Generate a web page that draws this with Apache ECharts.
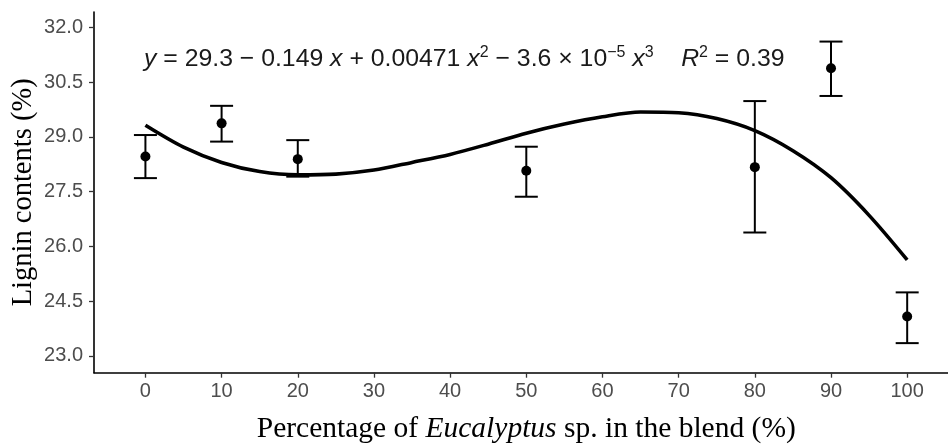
<!DOCTYPE html>
<html>
<head>
<meta charset="utf-8">
<script src="https://cdn.jsdelivr.net/npm/echarts@6/dist/echarts.min.js"></script>
<style>
html, body { margin: 0; padding: 0; background: #fff; }
#chart { width: 948px; height: 445px; }
</style>
</head>
<body>
<div id="chart"></div>
<script>
// measured means and error bar ends
var blendPct = [0, 10, 20, 50, 80, 90, 100];
var ligninMean = [28.46, 29.37, 28.39, 28.07, 28.17, 30.88, 24.08];
var ligninLow = [27.87, 28.87, 27.91, 27.36, 26.38, 30.12, 23.35];
var ligninHigh = [29.05, 29.85, 28.91, 28.73, 29.98, 31.61, 24.74];

// fitted curve
var curveX = [0, 5, 10, 15, 20, 25, 30, 35, 40, 45, 50, 55, 60, 65, 70, 75, 80, 85, 90, 95, 100];
var curveY = [29.32, 28.72, 28.3, 28.05, 27.96, 27.98, 28.09, 28.3, 28.52, 28.8, 29.1, 29.35, 29.55, 29.68, 29.66, 29.5, 29.17, 28.62, 27.88, 26.85, 25.63];

var xTicks = [0, 10, 20, 30, 40, 50, 60, 70, 80, 90, 100];
var yTicks = [23.0, 24.5, 26.0, 27.5, 29.0, 30.5, 32.0];

var chart = echarts.init(document.getElementById('chart'), null, { renderer: 'canvas' });

var pts = blendPct.map(function (x, i) { return [x, ligninMean[i]]; });
var bars = blendPct.map(function (x, i) { return [x, ligninLow[i], ligninHigh[i]]; });
var curve = curveX.map(function (x, i) { return [x, curveY[i]]; });

var axisText = { color: '#4d4d4d', fontSize: 20, fontFamily: 'Liberation Sans, Arial, sans-serif' };
var serif = 'Liberation Serif, Times New Roman, serif';
var sans = 'Liberation Sans, Arial, sans-serif';

var option = {
	animation: false,
	backgroundColor: '#fff',
	grid: { left: 94, right: -10.6, top: 12, bottom: 72.3, containLabel: false, outerBoundsMode: 'none' },
	xAxis: {
		type: 'value',
		min: -6.75,
		max: 106.75,
		name: '{n|Percentage of }{i|Eucalyptus}{n| sp. in the blend (%)}',
		nameLocation: 'middle',
		nameGap: 42,
		nameMoveOverlap: false,
		nameTextStyle: {
			rich: {
				n: { fontSize: 29.5, fontFamily: serif, color: '#000' },
				i: { fontSize: 29.5, fontStyle: 'italic', fontFamily: serif, color: '#000' }
			}
		},
		axisLine: { onZero: false, lineStyle: { color: '#000', width: 1.6 } },
		axisTick: { customValues: xTicks, length: 5, lineStyle: { color: '#333', width: 1.3 } },
		axisLabel: Object.assign({ customValues: xTicks, margin: 9 }, axisText),
		splitLine: { show: false }
	},
	yAxis: {
		type: 'value',
		min: 22.54,
		max: 32.42,
		name: 'Lignin contents (%)',
		nameLocation: 'middle',
		nameGap: 56,
		nameMoveOverlap: false,
		nameTextStyle: { fontSize: 28.5, fontFamily: serif, color: '#000' },
		axisLine: { onZero: false, lineStyle: { color: '#000', width: 1.6 } },
		axisTick: { customValues: yTicks, length: 5, lineStyle: { color: '#333', width: 1.3 } },
		axisLabel: Object.assign({
			customValues: yTicks,
			margin: 11,
			formatter: function (v) { return v.toFixed(1); }
		}, axisText),
		splitLine: { show: false }
	},
	graphic: [{
		type: 'text',
		left: 144,
		top: 44.5,
		style: {
			text: '{i|y}{n| = 29.3 − 0.149 }{i|x}{n| + 0.00471 }{i|x}{s|2}{n| − 3.6 × 10}{s|−5}{n| }{i|x}{s|3}{n|    }{i|R}{s|2}{n| = 0.39}',
			rich: {
				n: { fontSize: 24.8, lineHeight: 30, fontFamily: sans, fill: '#1a1a1a' },
				i: { fontSize: 24.8, lineHeight: 30, fontStyle: 'italic', fontFamily: sans, fill: '#1a1a1a' },
				s: { fontSize: 16, lineHeight: 14, verticalAlign: 'top', fontFamily: sans, fill: '#1a1a1a' }
			}
		}
	}],
	series: [{
		type: 'line',
		data: curve,
		smooth: 0.3,
		showSymbol: false,
		lineStyle: { color: '#000', width: 3.6 },
		z: 2
	}, {
		type: 'custom',
		data: bars,
		renderItem: function (params, api) {
			var x = api.value(0);
			var lo = api.coord([x, api.value(1)]);
			var hi = api.coord([x, api.value(2)]);
			var half = 11.5;
			var st = { stroke: '#000', lineWidth: 2 };
			return {
				type: 'group',
				children: [
					{ type: 'line', shape: { x1: lo[0], y1: lo[1], x2: hi[0], y2: hi[1] }, style: st },
					{ type: 'line', shape: { x1: lo[0] - half, y1: lo[1], x2: lo[0] + half, y2: lo[1] }, style: st },
					{ type: 'line', shape: { x1: hi[0] - half, y1: hi[1], x2: hi[0] + half, y2: hi[1] }, style: st }
				]
			};
		},
		z: 3
	}, {
		type: 'scatter',
		data: pts,
		symbol: 'circle',
		symbolSize: 10,
		itemStyle: { color: '#000', opacity: 1 },
		z: 4
	}]
};

chart.setOption(option);
</script>
</body>
</html>
